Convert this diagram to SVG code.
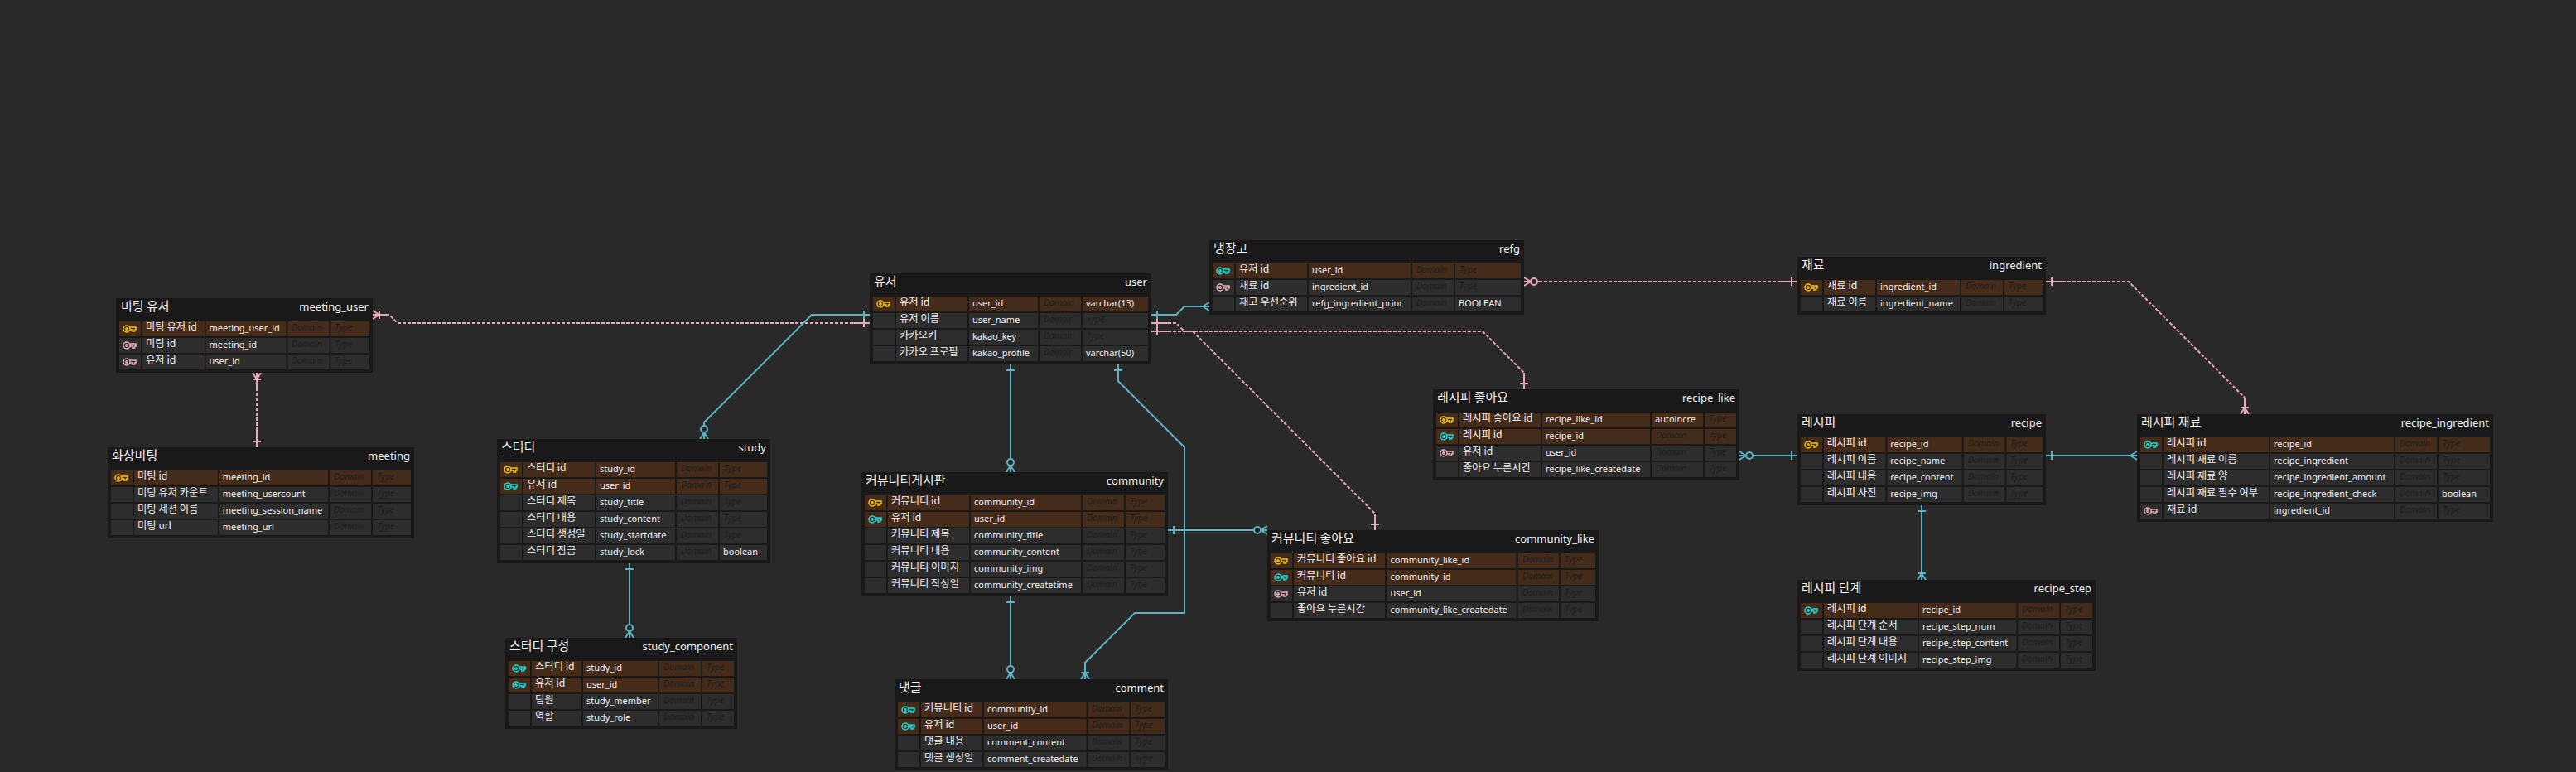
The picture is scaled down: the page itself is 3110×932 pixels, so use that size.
<svg xmlns="http://www.w3.org/2000/svg" width="3110" height="932" viewBox="0 0 3110 932">
<style>
text{font-family:"Noto Sans","Noto Sans CJK KR",sans-serif;fill:#f0f0f0;font-size:11px}
.t{fill:#191919}
.h{fill:#191919}
.r{fill:#2d2d2d}
.k{fill:#452b1a}
.tl{font-size:15px;font-family:"Noto Sans CJK KR","Noto Sans",sans-serif}
.tp{font-size:13px;text-anchor:end}
.l{font-size:12.3px;font-family:"Noto Sans CJK KR","Noto Sans",sans-serif}
.d{font-size:10.5px;font-style:italic;fill:#1e1e1e}
.g{stroke:#f2c40f}
.c{stroke:#12e0e0}
.p{stroke:#e8b0bb}
.ic{fill:none;stroke-width:1.5}
.tc,.pc{fill:none;stroke-width:2}
.tc{stroke:#5db3c3}
.pc{stroke:#e6a9b6}
.ds{stroke-dasharray:4 2}
</style>
<defs>
<g id="key" class="ic"><circle cx="5" cy="5" r="4"/><circle cx="5" cy="5" r="1.2"/><path d="M9 3H16V6H14.5V8H12V6H9"/></g>
<marker id="one-t" markerUnits="userSpaceOnUse" orient="auto" overflow="visible" markerWidth="1" markerHeight="1"><path class="tc" d="M7-5V5"/></marker>
<marker id="one-p" markerUnits="userSpaceOnUse" orient="auto" overflow="visible" markerWidth="1" markerHeight="1"><path class="pc" d="M7-5V5"/></marker>
<marker id="m-t" markerUnits="userSpaceOnUse" orient="auto" overflow="visible" markerWidth="1" markerHeight="1"><path class="tc" d="M-8 0L0-5M-8 0L0 5"/></marker>
<marker id="om-t" markerUnits="userSpaceOnUse" orient="auto" overflow="visible" markerWidth="1" markerHeight="1"><path class="tc" d="M-8 0L0-5M-8 0L0 5M-8-5V5"/></marker>
<marker id="om-p" markerUnits="userSpaceOnUse" orient="auto" overflow="visible" markerWidth="1" markerHeight="1"><path class="pc" d="M-8 0L0-5M-8 0L0 5M-8-5V5"/></marker>
<marker id="zm-t" markerUnits="userSpaceOnUse" orient="auto" overflow="visible" markerWidth="1" markerHeight="1"><path class="tc" d="M-8 0L0-5M-8 0L0 5"/><circle class="tc" cx="-12" cy="0" r="4" style="fill:#292929"/></marker>
<marker id="zm-p" markerUnits="userSpaceOnUse" orient="auto" overflow="visible" markerWidth="1" markerHeight="1"><path class="pc" d="M-8 0L0-5M-8 0L0 5"/><circle class="pc" cx="-12" cy="0" r="4" style="fill:#292929"/></marker>
</defs>
<rect width="3110" height="932" fill="#292929"/>
<g id="connectors">
<path class="tc" d="M1050 380H980L850 510V530" marker-start="url(#one-t)" marker-end="url(#zm-t)"/>
<path class="tc" d="M1220 440V570" marker-start="url(#one-t)" marker-end="url(#zm-t)"/>
<path class="tc" d="M1350 440V460L1430 540V740H1370L1310 800V820" marker-start="url(#one-t)" marker-end="url(#om-t)"/>
<path class="tc" d="M1390 380H1420L1430 370H1460" marker-start="url(#one-t)" marker-end="url(#m-t)"/>
<path class="tc" d="M1220 720V820" marker-start="url(#one-t)" marker-end="url(#zm-t)"/>
<path class="tc" d="M1410 640H1530" marker-start="url(#one-t)" marker-end="url(#zm-t)"/>
<path class="tc" d="M760 680V770" marker-start="url(#one-t)" marker-end="url(#zm-t)"/>
<path class="tc" d="M2170 550H2100" marker-start="url(#one-t)" marker-end="url(#zm-t)"/>
<path class="tc" d="M2470 550H2580" marker-start="url(#one-t)" marker-end="url(#m-t)"/>
<path class="tc" d="M2320 610V700" marker-start="url(#one-t)" marker-end="url(#om-t)"/>
<path class="pc ds" d="M1030 390H480L470 380"/><path class="pc" d="M1050 390H1030" marker-start="url(#one-p)"/><path class="pc" d="M470 380H450" marker-end="url(#om-p)"/>
<path class="pc ds" d="M310 520V470"/><path class="pc" d="M310 540V520" marker-start="url(#one-p)"/><path class="pc" d="M310 470V450" marker-end="url(#om-p)"/>
<path class="pc ds" d="M1410 390H1420L1430 400H1790L1840 450"/><path class="pc" d="M1390 390H1410" marker-start="url(#one-p)"/><path class="pc" d="M1840 470V450" marker-start="url(#one-p)"/>
<path class="pc ds" d="M1410 400H1440L1660 620"/><path class="pc" d="M1390 400H1410" marker-start="url(#one-p)"/><path class="pc" d="M1660 640V620" marker-start="url(#one-p)"/>
<path class="pc ds" d="M2150 340H1860"/><path class="pc" d="M2170 340H2150" marker-start="url(#one-p)"/><path class="pc" d="M1860 340H1840" marker-end="url(#zm-p)"/>
<path class="pc ds" d="M2490 340H2570L2710 480"/><path class="pc" d="M2470 340H2490" marker-start="url(#one-p)"/><path class="pc" d="M2710 480V500" marker-end="url(#om-p)"/>
</g>

<g id="meeting_user">
<defs><g id="c1"><rect x="144" width="26" height="18"/><rect x="172" width="75" height="18"/><rect x="248.5" width="97" height="18"/><rect x="347.5" width="50" height="18"/><rect x="399.5" width="46.5" height="18"/></g></defs>
<rect class="t" x="140" y="360" width="310" height="90"/>
<text class="tl" x="146" y="375">미팅 유저</text><text class="tp" x="445" y="375">meeting_user</text>
<use href="#c1" y="388" class="k"/><use href="#c1" y="408" class="r"/><use href="#c1" y="428" class="r"/>
<use href="#key" x="148" y="392" class="g"/><use href="#key" x="148" y="412" class="p"/><use href="#key" x="148" y="432" class="p"/>
<text class="l" x="176" y="398.5">미팅 유저 id</text><text x="252.5" y="399.5">meeting_user_id</text><text class="d" x="352" y="398.5">Domain</text><text class="d" x="404" y="398.5">Type</text>
<text class="l" x="176" y="418.5">미팅 id</text><text x="252.5" y="419.5">meeting_id</text><text class="d" x="352" y="418.5">Domain</text><text class="d" x="404" y="418.5">Type</text>
<text class="l" x="176" y="438.5">유저 id</text><text x="252.5" y="439.5">user_id</text><text class="d" x="352" y="438.5">Domain</text><text class="d" x="404" y="438.5">Type</text>
</g>

<g id="meeting">
<defs><g id="c2"><rect x="134" width="26" height="18"/><rect x="162" width="101" height="18"/><rect x="264.7" width="131.3" height="18"/><rect x="398" width="50" height="18"/><rect x="450" width="46" height="18"/></g></defs>
<rect class="t" x="130" y="540" width="370" height="110"/>
<text class="tl" x="135" y="555">화상미팅</text><text class="tp" x="495" y="555">meeting</text>
<use href="#c2" y="568" class="k"/><use href="#c2" y="588" class="r"/><use href="#c2" y="608" class="r"/><use href="#c2" y="628" class="r"/>
<use href="#key" x="138" y="572" class="g"/>
<text class="l" x="166" y="578.5">미팅 id</text><text x="268.7" y="579.5">meeting_id</text><text class="d" x="403" y="578.5">Domain</text><text class="d" x="455" y="578.5">Type</text>
<text class="l" x="166" y="598.5">미팅 유저 카운트</text><text x="268.7" y="599.5">meeting_usercount</text><text class="d" x="403" y="598.5">Domain</text><text class="d" x="455" y="598.5">Type</text>
<text class="l" x="166" y="618.5">미팅 세션 이름</text><text x="268.7" y="619.5">meeting_session_name</text><text class="d" x="403" y="618.5">Domain</text><text class="d" x="455" y="618.5">Type</text>
<text class="l" x="166" y="638.5">미팅 url</text><text x="268.7" y="639.5">meeting_url</text><text class="d" x="403" y="638.5">Domain</text><text class="d" x="455" y="638.5">Type</text>
</g>

<g id="study">
<defs><g id="c3"><rect x="604" width="26" height="18"/><rect x="632" width="86" height="18"/><rect x="720" width="95" height="18"/><rect x="817" width="50" height="18"/><rect x="869" width="57" height="18"/></g></defs>
<rect class="t" x="600" y="530" width="330" height="150"/>
<text class="tl" x="605" y="545">스터디</text><text class="tp" x="925" y="545">study</text>
<use href="#c3" y="558" class="k"/><use href="#c3" y="578" class="k"/><use href="#c3" y="598" class="r"/><use href="#c3" y="618" class="r"/><use href="#c3" y="638" class="r"/><use href="#c3" y="658" class="r"/>
<use href="#key" x="608" y="562" class="g"/><use href="#key" x="608" y="582" class="c"/>
<text class="l" x="636" y="568.5">스터디 id</text><text x="724" y="569.5">study_id</text><text class="d" x="822" y="568.5">Domain</text><text class="d" x="874" y="568.5">Type</text>
<text class="l" x="636" y="588.5">유저 id</text><text x="724" y="589.5">user_id</text><text class="d" x="822" y="588.5">Domain</text><text class="d" x="874" y="588.5">Type</text>
<text class="l" x="636" y="608.5">스터디 제목</text><text x="724" y="609.5">study_title</text><text class="d" x="822" y="608.5">Domain</text><text class="d" x="874" y="608.5">Type</text>
<text class="l" x="636" y="628.5">스터디 내용</text><text x="724" y="629.5">study_content</text><text class="d" x="822" y="628.5">Domain</text><text class="d" x="874" y="628.5">Type</text>
<text class="l" x="636" y="648.5">스터디 생성일</text><text x="724" y="649.5">study_startdate</text><text class="d" x="822" y="648.5">Domain</text><text class="d" x="874" y="648.5">Type</text>
<text class="l" x="636" y="668.5">스터디 잠금</text><text x="724" y="669.5">study_lock</text><text class="d" x="822" y="668.5">Domain</text><text x="873" y="669.5">boolean</text>
</g>

<g id="study_component">
<defs><g id="c4"><rect x="614" width="26" height="18"/><rect x="642" width="60" height="18"/><rect x="704" width="90" height="18"/><rect x="796" width="50" height="18"/><rect x="848" width="38" height="18"/></g></defs>
<rect class="t" x="610" y="770" width="280" height="110"/>
<text class="tl" x="615" y="785">스터디 구성</text><text class="tp" x="885" y="785">study_component</text>
<use href="#c4" y="798" class="k"/><use href="#c4" y="818" class="k"/><use href="#c4" y="838" class="r"/><use href="#c4" y="858" class="r"/>
<use href="#key" x="618" y="802" class="c"/><use href="#key" x="618" y="822" class="c"/>
<text class="l" x="646" y="808.5">스터디 id</text><text x="708" y="809.5">study_id</text><text class="d" x="801" y="808.5">Domain</text><text class="d" x="853" y="808.5">Type</text>
<text class="l" x="646" y="828.5">유저 id</text><text x="708" y="829.5">user_id</text><text class="d" x="801" y="828.5">Domain</text><text class="d" x="853" y="828.5">Type</text>
<text class="l" x="646" y="848.5">팀원</text><text x="708" y="849.5">study_member</text><text class="d" x="801" y="848.5">Domain</text><text class="d" x="853" y="848.5">Type</text>
<text class="l" x="646" y="868.5">역할</text><text x="708" y="869.5">study_role</text><text class="d" x="801" y="868.5">Domain</text><text class="d" x="853" y="868.5">Type</text>
</g>

<g id="user">
<defs><g id="c5"><rect x="1054" width="26" height="18"/><rect x="1082" width="86" height="18"/><rect x="1170" width="83" height="18"/><rect x="1255" width="50" height="18"/><rect x="1307" width="79" height="18"/></g></defs>
<rect class="t" x="1050" y="330" width="340" height="110"/>
<text class="tl" x="1055" y="345">유저</text><text class="tp" x="1385" y="345">user</text>
<use href="#c5" y="358" class="k"/><use href="#c5" y="378" class="r"/><use href="#c5" y="398" class="r"/><use href="#c5" y="418" class="r"/>
<use href="#key" x="1058" y="362" class="g"/>
<text class="l" x="1086" y="368.5">유저 id</text><text x="1174" y="369.5">user_id</text><text class="d" x="1260" y="368.5">Domain</text><text x="1311" y="369.5">varchar(13)</text>
<text class="l" x="1086" y="388.5">유저 이름</text><text x="1174" y="389.5">user_name</text><text class="d" x="1260" y="388.5">Domain</text><text class="d" x="1312" y="388.5">Type</text>
<text class="l" x="1086" y="408.5">카카오키</text><text x="1174" y="409.5">kakao_key</text><text class="d" x="1260" y="408.5">Domain</text><text class="d" x="1312" y="408.5">Type</text>
<text class="l" x="1086" y="428.5">카카오 프로필</text><text x="1174" y="429.5">kakao_profile</text><text class="d" x="1260" y="428.5">Domain</text><text x="1311" y="429.5">varchar(50)</text>
</g>

<g id="community">
<defs><g id="c6"><rect x="1044" width="26" height="18"/><rect x="1072" width="98" height="18"/><rect x="1172" width="133" height="18"/><rect x="1307" width="50" height="18"/><rect x="1359" width="47" height="18"/></g></defs>
<rect class="t" x="1040" y="570" width="370" height="150"/>
<text class="tl" x="1045" y="585">커뮤니티게시판</text><text class="tp" x="1405" y="585">community</text>
<use href="#c6" y="598" class="k"/><use href="#c6" y="618" class="k"/><use href="#c6" y="638" class="r"/><use href="#c6" y="658" class="r"/><use href="#c6" y="678" class="r"/><use href="#c6" y="698" class="r"/>
<use href="#key" x="1048" y="602" class="g"/><use href="#key" x="1048" y="622" class="c"/>
<text class="l" x="1076" y="608.5">커뮤니티 id</text><text x="1176" y="609.5">community_id</text><text class="d" x="1312" y="608.5">Domain</text><text class="d" x="1364" y="608.5">Type</text>
<text class="l" x="1076" y="628.5">유저 id</text><text x="1176" y="629.5">user_id</text><text class="d" x="1312" y="628.5">Domain</text><text class="d" x="1364" y="628.5">Type</text>
<text class="l" x="1076" y="648.5">커뮤니티 제목</text><text x="1176" y="649.5">community_title</text><text class="d" x="1312" y="648.5">Domain</text><text class="d" x="1364" y="648.5">Type</text>
<text class="l" x="1076" y="668.5">커뮤니티 내용</text><text x="1176" y="669.5">community_content</text><text class="d" x="1312" y="668.5">Domain</text><text class="d" x="1364" y="668.5">Type</text>
<text class="l" x="1076" y="688.5">커뮤니티 이미지</text><text x="1176" y="689.5">community_img</text><text class="d" x="1312" y="688.5">Domain</text><text class="d" x="1364" y="688.5">Type</text>
<text class="l" x="1076" y="708.5">커뮤니티 작성일</text><text x="1176" y="709.5">community_createtime</text><text class="d" x="1312" y="708.5">Domain</text><text class="d" x="1364" y="708.5">Type</text>
</g>

<g id="comment">
<defs><g id="c7"><rect x="1084" width="26" height="18"/><rect x="1112" width="74" height="18"/><rect x="1188" width="123.7" height="18"/><rect x="1313.7" width="49.6" height="18"/><rect x="1365.3" width="40.7" height="18"/></g></defs>
<rect class="t" x="1080" y="820" width="330" height="110"/>
<text class="tl" x="1085" y="835">댓글</text><text class="tp" x="1405" y="835">comment</text>
<use href="#c7" y="848" class="k"/><use href="#c7" y="868" class="k"/><use href="#c7" y="888" class="r"/><use href="#c7" y="908" class="r"/>
<use href="#key" x="1088" y="852" class="c"/><use href="#key" x="1088" y="872" class="c"/>
<text class="l" x="1116" y="858.5">커뮤니티 id</text><text x="1192" y="859.5">community_id</text><text class="d" x="1318" y="858.5">Domain</text><text class="d" x="1370" y="858.5">Type</text>
<text class="l" x="1116" y="878.5">유저 id</text><text x="1192" y="879.5">user_id</text><text class="d" x="1318" y="878.5">Domain</text><text class="d" x="1370" y="878.5">Type</text>
<text class="l" x="1116" y="898.5">댓글 내용</text><text x="1192" y="899.5">comment_content</text><text class="d" x="1318" y="898.5">Domain</text><text class="d" x="1370" y="898.5">Type</text>
<text class="l" x="1116" y="918.5">댓글 생성일</text><text x="1192" y="919.5">comment_createdate</text><text class="d" x="1318" y="918.5">Domain</text><text class="d" x="1370" y="918.5">Type</text>
</g>

<g id="refg">
<defs><g id="c8"><rect x="1464" width="26" height="18"/><rect x="1492" width="86" height="18"/><rect x="1580" width="123" height="18"/><rect x="1705" width="50" height="18"/><rect x="1757" width="79" height="18"/></g></defs>
<rect class="t" x="1460" y="290" width="380" height="90"/>
<text class="tl" x="1465" y="305">냉장고</text><text class="tp" x="1835" y="305">refg</text>
<use href="#c8" y="318" class="k"/><use href="#c8" y="338" class="r"/><use href="#c8" y="358" class="r"/>
<use href="#key" x="1468" y="322" class="c"/><use href="#key" x="1468" y="342" class="p"/>
<text class="l" x="1496" y="328.5">유저 id</text><text x="1584" y="329.5">user_id</text><text class="d" x="1710" y="328.5">Domain</text><text class="d" x="1762" y="328.5">Type</text>
<text class="l" x="1496" y="348.5">재료 id</text><text x="1584" y="349.5">ingredient_id</text><text class="d" x="1710" y="348.5">Domain</text><text class="d" x="1762" y="348.5">Type</text>
<text class="l" x="1496" y="368.5">재고 우선순위</text><text x="1584" y="369.5">refg_ingredient_prior</text><text class="d" x="1710" y="368.5">Domain</text><text x="1761" y="369.5">BOOLEAN</text>
</g>

<g id="recipe_like">
<defs><g id="c9"><rect x="1734" width="26" height="18"/><rect x="1762" width="98" height="18"/><rect x="1862" width="130" height="18"/><rect x="1994" width="62" height="18"/><rect x="2058.5" width="37.5" height="18"/></g></defs>
<rect class="t" x="1730" y="470" width="370" height="110"/>
<text class="tl" x="1735" y="485">레시피 좋아요</text><text class="tp" x="2095" y="485">recipe_like</text>
<use href="#c9" y="498" class="k"/><use href="#c9" y="518" class="k"/><use href="#c9" y="538" class="r"/><use href="#c9" y="558" class="r"/>
<use href="#key" x="1738" y="502" class="g"/><use href="#key" x="1738" y="522" class="c"/><use href="#key" x="1738" y="542" class="p"/>
<text class="l" x="1766" y="508.5">레시피 좋아요 id</text><text x="1866" y="509.5">recipe_like_id</text><text x="1998" y="509.5">autoincre</text><text class="d" x="2063" y="508.5">Type</text>
<text class="l" x="1766" y="528.5">레시피 id</text><text x="1866" y="529.5">recipe_id</text><text class="d" x="1999" y="528.5">Domain</text><text class="d" x="2063" y="528.5">Type</text>
<text class="l" x="1766" y="548.5">유저 id</text><text x="1866" y="549.5">user_id</text><text class="d" x="1999" y="548.5">Domain</text><text class="d" x="2063" y="548.5">Type</text>
<text class="l" x="1766" y="568.5">좋아요 누른시간</text><text x="1866" y="569.5">recipe_like_createdate</text><text class="d" x="1999" y="568.5">Domain</text><text class="d" x="2063" y="568.5">Type</text>
</g>

<g id="community_like">
<defs><g id="c10"><rect x="1534" width="26" height="18"/><rect x="1562" width="110" height="18"/><rect x="1674.5" width="156" height="18"/><rect x="1832.7" width="49.3" height="18"/><rect x="1884" width="42" height="18"/></g></defs>
<rect class="t" x="1530" y="640" width="400" height="110"/>
<text class="tl" x="1535" y="655">커뮤니티 좋아요</text><text class="tp" x="1925" y="655">community_like</text>
<use href="#c10" y="668" class="k"/><use href="#c10" y="688" class="k"/><use href="#c10" y="708" class="r"/><use href="#c10" y="728" class="r"/>
<use href="#key" x="1538" y="672" class="g"/><use href="#key" x="1538" y="692" class="c"/><use href="#key" x="1538" y="712" class="p"/>
<text class="l" x="1566" y="678.5">커뮤니티 좋아요 id</text><text x="1678.5" y="679.5">community_like_id</text><text class="d" x="1838" y="678.5">Domain</text><text class="d" x="1889" y="678.5">Type</text>
<text class="l" x="1566" y="698.5">커뮤니티 id</text><text x="1678.5" y="699.5">community_id</text><text class="d" x="1838" y="698.5">Domain</text><text class="d" x="1889" y="698.5">Type</text>
<text class="l" x="1566" y="718.5">유저 id</text><text x="1678.5" y="719.5">user_id</text><text class="d" x="1838" y="718.5">Domain</text><text class="d" x="1889" y="718.5">Type</text>
<text class="l" x="1566" y="738.5">좋아요 누른시간</text><text x="1678.5" y="739.5">community_like_createdate</text><text class="d" x="1838" y="738.5">Domain</text><text class="d" x="1889" y="738.5">Type</text>
</g>

<g id="ingredient">
<defs><g id="c11"><rect x="2174" width="26" height="18"/><rect x="2202" width="62" height="18"/><rect x="2266" width="100" height="18"/><rect x="2368" width="50" height="18"/><rect x="2420" width="46" height="18"/></g></defs>
<rect class="t" x="2170" y="310" width="300" height="70"/>
<text class="tl" x="2175" y="325">재료</text><text class="tp" x="2465" y="325">ingredient</text>
<use href="#c11" y="338" class="k"/><use href="#c11" y="358" class="r"/>
<use href="#key" x="2178" y="342" class="g"/>
<text class="l" x="2206" y="348.5">재료 id</text><text x="2270" y="349.5">ingredient_id</text><text class="d" x="2373" y="348.5">Domain</text><text class="d" x="2425" y="348.5">Type</text>
<text class="l" x="2206" y="368.5">재료 이름</text><text x="2270" y="369.5">ingredient_name</text><text class="d" x="2373" y="368.5">Domain</text><text class="d" x="2425" y="368.5">Type</text>
</g>

<g id="recipe">
<defs><g id="c12"><rect x="2174" width="26" height="18"/><rect x="2202" width="74.3" height="18"/><rect x="2278.3" width="90.4" height="18"/><rect x="2370.7" width="49.6" height="18"/><rect x="2422.3" width="43.7" height="18"/></g></defs>
<rect class="t" x="2170" y="500" width="300" height="110"/>
<text class="tl" x="2175" y="515">레시피</text><text class="tp" x="2465" y="515">recipe</text>
<use href="#c12" y="528" class="k"/><use href="#c12" y="548" class="r"/><use href="#c12" y="568" class="r"/><use href="#c12" y="588" class="r"/>
<use href="#key" x="2178" y="532" class="g"/>
<text class="l" x="2206" y="538.5">레시피 id</text><text x="2282.3" y="539.5">recipe_id</text><text class="d" x="2375.7" y="538.5">Domain</text><text class="d" x="2427" y="538.5">Type</text>
<text class="l" x="2206" y="558.5">레시피 이름</text><text x="2282.3" y="559.5">recipe_name</text><text class="d" x="2375.7" y="558.5">Domain</text><text class="d" x="2427" y="558.5">Type</text>
<text class="l" x="2206" y="578.5">레시피 내용</text><text x="2282.3" y="579.5">recipe_content</text><text class="d" x="2375.7" y="578.5">Domain</text><text class="d" x="2427" y="578.5">Type</text>
<text class="l" x="2206" y="598.5">레시피 사진</text><text x="2282.3" y="599.5">recipe_img</text><text class="d" x="2375.7" y="598.5">Domain</text><text class="d" x="2427" y="598.5">Type</text>
</g>

<g id="recipe_step">
<defs><g id="c13"><rect x="2174" width="26" height="18"/><rect x="2202" width="113" height="18"/><rect x="2317" width="117.3" height="18"/><rect x="2436.3" width="49.7" height="18"/><rect x="2488" width="38" height="18"/></g></defs>
<rect class="t" x="2170" y="700" width="360" height="110"/>
<text class="tl" x="2175" y="715">레시피 단계</text><text class="tp" x="2525" y="715">recipe_step</text>
<use href="#c13" y="728" class="k"/><use href="#c13" y="748" class="r"/><use href="#c13" y="768" class="r"/><use href="#c13" y="788" class="r"/>
<use href="#key" x="2178" y="732" class="c"/>
<text class="l" x="2206" y="738.5">레시피 id</text><text x="2321" y="739.5">recipe_id</text><text class="d" x="2441" y="738.5">Domain</text><text class="d" x="2493" y="738.5">Type</text>
<text class="l" x="2206" y="758.5">레시피 단계 순서</text><text x="2321" y="759.5">recipe_step_num</text><text class="d" x="2441" y="758.5">Domain</text><text class="d" x="2493" y="758.5">Type</text>
<text class="l" x="2206" y="778.5">레시피 단계 내용</text><text x="2321" y="779.5">recipe_step_content</text><text class="d" x="2441" y="778.5">Domain</text><text class="d" x="2493" y="778.5">Type</text>
<text class="l" x="2206" y="798.5">레시피 단계 이미지</text><text x="2321" y="799.5">recipe_step_img</text><text class="d" x="2441" y="798.5">Domain</text><text class="d" x="2493" y="798.5">Type</text>
</g>

<g id="recipe_ingredient">
<defs><g id="c14"><rect x="2584" width="26" height="18"/><rect x="2612" width="127" height="18"/><rect x="2741" width="149" height="18"/><rect x="2892" width="50" height="18"/><rect x="2944" width="62" height="18"/></g></defs>
<rect class="t" x="2580" y="500" width="430" height="130"/>
<text class="tl" x="2585" y="515">레시피 재료</text><text class="tp" x="3005" y="515">recipe_ingredient</text>
<use href="#c14" y="528" class="k"/><use href="#c14" y="548" class="r"/><use href="#c14" y="568" class="r"/><use href="#c14" y="588" class="r"/><use href="#c14" y="608" class="r"/>
<use href="#key" x="2588" y="532" class="c"/><use href="#key" x="2588" y="612" class="p"/>
<text class="l" x="2616" y="538.5">레시피 id</text><text x="2745" y="539.5">recipe_id</text><text class="d" x="2897" y="538.5">Domain</text><text class="d" x="2949" y="538.5">Type</text>
<text class="l" x="2616" y="558.5">레시피 재료 이름</text><text x="2745" y="559.5">recipe_ingredient</text><text class="d" x="2897" y="558.5">Domain</text><text class="d" x="2949" y="558.5">Type</text>
<text class="l" x="2616" y="578.5">레시피 재료 양</text><text x="2745" y="579.5">recipe_ingredient_amount</text><text class="d" x="2897" y="578.5">Domain</text><text class="d" x="2949" y="578.5">Type</text>
<text class="l" x="2616" y="598.5">레시피 재료 필수 여부</text><text x="2745" y="599.5">recipe_ingredient_check</text><text class="d" x="2897" y="598.5">Domain</text><text x="2948" y="599.5">boolean</text>
<text class="l" x="2616" y="618.5">재료 id</text><text x="2745" y="619.5">ingredient_id</text><text class="d" x="2897" y="618.5">Domain</text><text class="d" x="2949" y="618.5">Type</text>
</g>
</svg>
